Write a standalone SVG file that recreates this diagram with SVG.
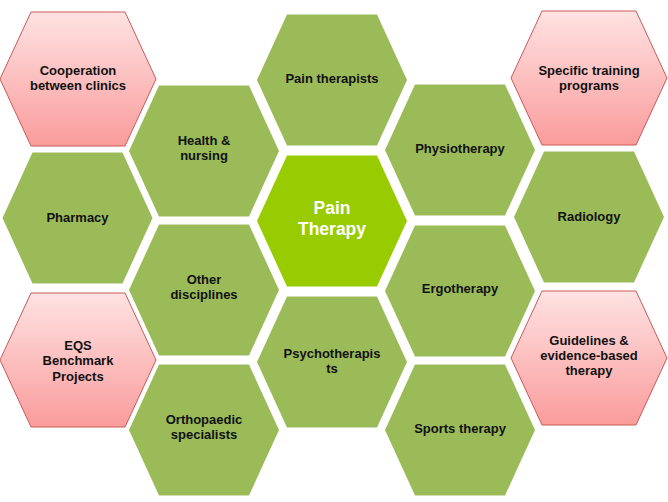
<svg xmlns="http://www.w3.org/2000/svg" xmlns:xlink="http://www.w3.org/1999/xlink" width="668" height="502" viewBox="0 0 668 502">
<defs>
<linearGradient id="pinkGrad" x1="0" y1="0" x2="0" y2="1">
<stop offset="0" stop-color="#FFE2E2"/>
<stop offset="1" stop-color="#FA9C9C"/>
</linearGradient>
<polygon id="hexG" points="-45,-65.5 45,-65.5 75,0 45,65.5 -45,65.5 -75,0"/>
<polygon id="hexP" points="-47,-67 47,-67 78,0 47,67 -47,67 -78,0"/>
</defs>
<style>
.green{fill:#9BBB59;}
.core{fill:#99CC00;}
.pink{fill:url(#pinkGrad);stroke:#C85A58;stroke-width:1;}
text{font-family:"Liberation Sans",Arial,sans-serif;font-weight:bold;text-anchor:middle;}
.lbl{font-size:13px;fill:#111111;}
.ctr{font-size:17.5px;fill:#FFFFFF;}
</style>
<rect width="668" height="502" fill="#FFFFFF"/>
<g id="connectors"></g>

<g id="cooperation" transform="translate(78,79)">
<use xlink:href="#hexP" class="pink"/>
<text class="lbl" y="-4">Cooperation</text>
<text class="lbl" y="11">between clinics</text>
</g>
<g id="pharmacy" transform="translate(77.5,218)">
<use xlink:href="#hexG" class="green"/>
<text class="lbl" y="3.5">Pharmacy</text>
</g>
<g id="eqs" transform="translate(78,360)">
<use xlink:href="#hexP" class="pink"/>
<text class="lbl" y="-10.5">EQS</text>
<text class="lbl" y="5">Benchmark</text>
<text class="lbl" y="20.5">Projects</text>
</g>

<g id="health" transform="translate(204,151)">
<use xlink:href="#hexG" class="green"/>
<text class="lbl" y="-6.5">Health &amp;</text>
<text class="lbl" y="9">nursing</text>
</g>
<g id="other" transform="translate(204,290)">
<use xlink:href="#hexG" class="green"/>
<text class="lbl" y="-6.5">Other</text>
<text class="lbl" y="9">disciplines</text>
</g>
<g id="orthopaedic" transform="translate(204,430)">
<use xlink:href="#hexG" class="green"/>
<text class="lbl" y="-6.5">Orthopaedic</text>
<text class="lbl" y="9">specialists</text>
</g>

<g id="painTherapists" transform="translate(332,80)">
<use xlink:href="#hexG" class="green"/>
<text class="lbl" y="2.5">Pain therapists</text>
</g>
<g id="painTherapy" transform="translate(332,221)">
<use xlink:href="#hexG" class="core"/>
<text class="ctr" y="-7">Pain</text>
<text class="ctr" y="14">Therapy</text>
</g>
<g id="psychotherapists" transform="translate(332,362)">
<use xlink:href="#hexG" class="green"/>
<text class="lbl" y="-4.5">Psychotherapis</text>
<text class="lbl" y="11">ts</text>
</g>

<g id="physiotherapy" transform="translate(460,150)">
<use xlink:href="#hexG" class="green"/>
<text class="lbl" y="2.5">Physiotherapy</text>
</g>
<g id="ergotherapy" transform="translate(460,291)">
<use xlink:href="#hexG" class="green"/>
<text class="lbl" y="2">Ergotherapy</text>
</g>
<g id="sports" transform="translate(460,430)">
<use xlink:href="#hexG" class="green"/>
<text class="lbl" y="2.5">Sports therapy</text>
</g>

<g id="specific" transform="translate(589,78)">
<use xlink:href="#hexP" class="pink"/>
<text class="lbl" y="-3">Specific training</text>
<text class="lbl" y="12">programs</text>
</g>
<g id="radiology" transform="translate(589,217)">
<use xlink:href="#hexG" class="green"/>
<text class="lbl" y="3.5">Radiology</text>
</g>
<g id="guidelines" transform="translate(589,358)">
<use xlink:href="#hexP" class="pink"/>
<text class="lbl" y="-13.5">Guidelines &amp;</text>
<text class="lbl" y="1.5">evidence-based</text>
<text class="lbl" y="17">therapy</text>
</g>
</svg>
